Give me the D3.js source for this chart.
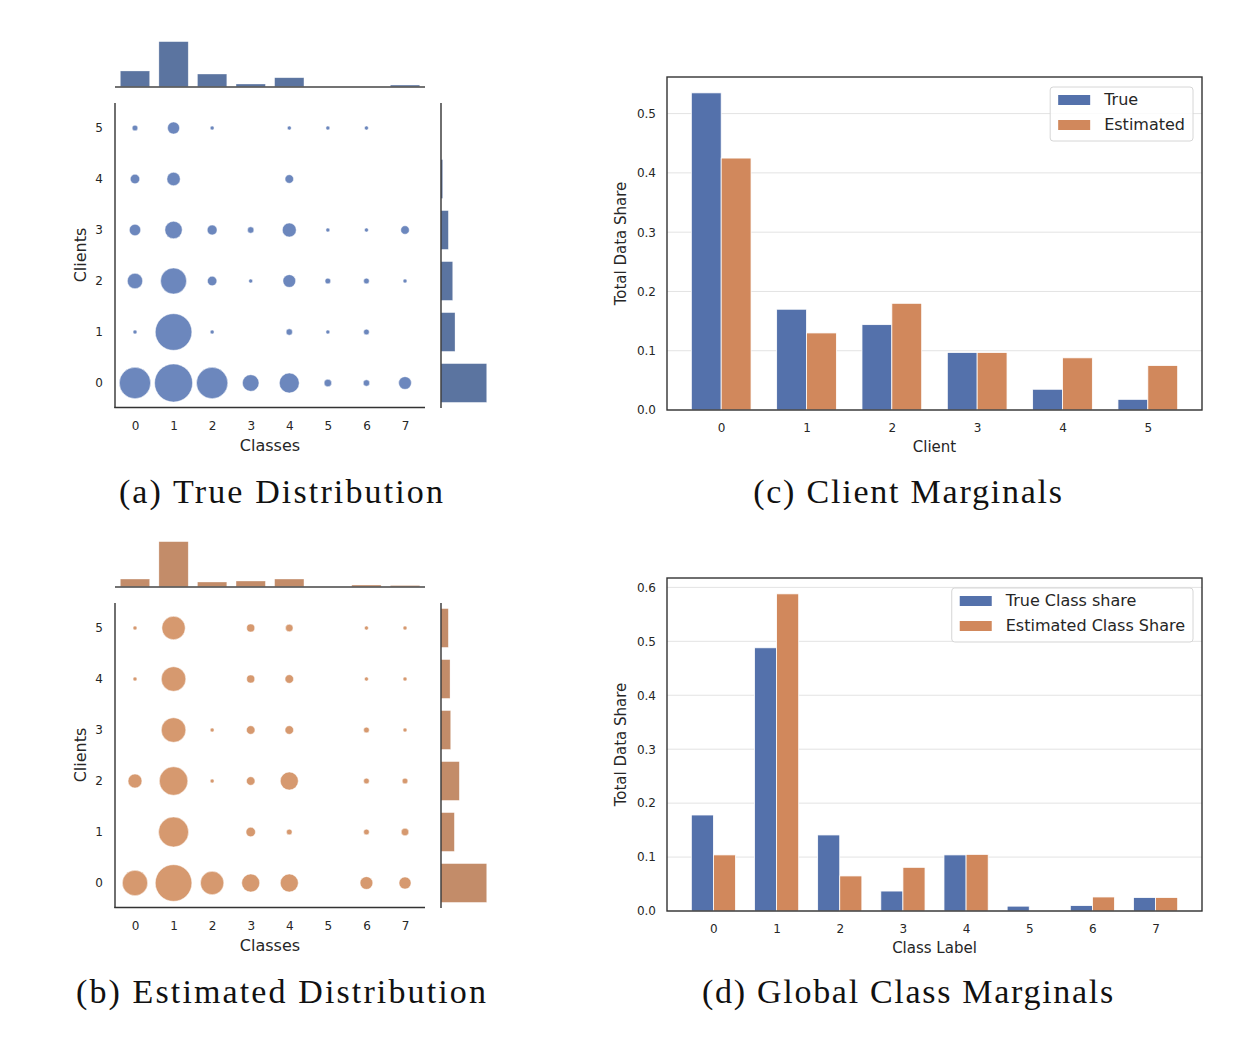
<!DOCTYPE html>
<html>
<head>
<meta charset="utf-8">
<script src="https://cdn.jsdelivr.net/npm/d3@7"></script>
<style>
  body { margin: 0; background: #fff; }
  text { font-family: "DejaVu Sans", sans-serif; fill: #262626; }
  .caption { font-family: "Liberation Serif", "DejaVu Serif", serif; fill: #111; }
</style>
</head>
<body>
<script>
// ---- data ----
const classes = [0, 1, 2, 3, 4, 5, 6, 7];
const clients = [0, 1, 2, 3, 4, 5];

// share of data per (client row, class column)
const trueMatrix = [
  [0.121, 0.178, 0.121, 0.034, 0.049, 0.007, 0.005, 0.020],
  [0.002, 0.165, 0.002, 0.000, 0.005, 0.002, 0.004, 0.000],
  [0.029, 0.083, 0.011, 0.002, 0.020, 0.004, 0.004, 0.002],
  [0.016, 0.037, 0.012, 0.005, 0.024, 0.002, 0.002, 0.009],
  [0.011, 0.022, 0.000, 0.000, 0.009, 0.000, 0.000, 0.000],
  [0.004, 0.018, 0.002, 0.000, 0.002, 0.002, 0.002, 0.000]
];
const estMatrix = [
  [0.079, 0.165, 0.067, 0.040, 0.040, 0.000, 0.020, 0.018],
  [0.000, 0.111, 0.000, 0.011, 0.004, 0.000, 0.004, 0.007],
  [0.024, 0.100, 0.002, 0.009, 0.040, 0.000, 0.004, 0.004],
  [0.000, 0.074, 0.002, 0.009, 0.009, 0.000, 0.004, 0.002],
  [0.002, 0.074, 0.000, 0.008, 0.009, 0.000, 0.002, 0.002],
  [0.002, 0.067, 0.000, 0.008, 0.007, 0.000, 0.002, 0.002]
];

// marginal histograms of the joint plots
const trueClassHist = [0.170, 0.487, 0.137, 0.029, 0.097, 0.000, 0.000, 0.018];
const trueClientHist = [0.535, 0.164, 0.137, 0.086, 0.020, 0.000];
const estClassHist = [0.100, 0.587, 0.061, 0.074, 0.100, 0.000, 0.022, 0.016];
const estClientHist = [0.425, 0.124, 0.170, 0.090, 0.084, 0.068];

// client marginals
const clientTrue = [0.535, 0.170, 0.144, 0.097, 0.035, 0.018];
const clientEst = [0.425, 0.130, 0.180, 0.097, 0.088, 0.075];

// global class marginals
const classTrue = [0.178, 0.488, 0.141, 0.037, 0.104, 0.009, 0.010, 0.025];
const classEst = [0.104, 0.588, 0.065, 0.081, 0.105, 0.000, 0.026, 0.025];

const clientTicks = [0, 0.1, 0.2, 0.3, 0.4, 0.5];
const classTicks = [0, 0.1, 0.2, 0.3, 0.4, 0.5, 0.6];

const blue = "#5471ab", orange = "#d1885c";

const svg = d3.select("body").append("svg")
  .attr("width", 1260)
  .attr("height", 1044);

function caption(text, cx, y, target) {
  const t = svg.append("text").attr("class", "caption")
    .attr("x", cx).attr("y", y)
    .attr("text-anchor", "middle")
    .attr("font-size", 34)
    .text(text);
  const w = t.node().getComputedTextLength();
  t.attr("letter-spacing", Math.max(0, (target - w) / (text.length - 1)).toFixed(2));
}

// ---- joint plot (a) / (b) ----
function jointPlot(dy, matrix, topHist, rightHist, dotColor, barColor) {
  const g = svg.append("g").attr("transform", "translate(0," + dy + ")");

  const x = d3.scaleLinear().domain([-0.5, 7.5]).range([115.7, 424.3]);
  const y = d3.scaleLinear().domain([-0.5, 5.5]).range([408.5, 102.5]);
  const r = d3.scaleSqrt().domain([0, 0.178]).range([0, 19]);

  const cells = [];
  matrix.forEach((row, ci) => row.forEach((v, k) => {
    if (v > 0) cells.push({ client: ci, cls: k, v: v });
  }));

  g.selectAll("circle.dot")
    .data(cells)
    .enter().append("circle")
    .attr("class", "dot")
    .attr("cx", d => x(d.cls))
    .attr("cy", d => y(d.client))
    .attr("r", d => r(d.v))
    .attr("fill", dotColor)
    .attr("stroke", "#fff")
    .attr("stroke-opacity", 0.6)
    .attr("stroke-width", 0.8);

  // spines
  g.append("line").attr("x1", 115).attr("x2", 115).attr("y1", 103).attr("y2", 408)
    .attr("stroke", "#333").attr("stroke-width", 1.4);
  g.append("line").attr("x1", 114.3).attr("x2", 425).attr("y1", 407.5).attr("y2", 407.5)
    .attr("stroke", "#333").attr("stroke-width", 1.4);

  const xa = g.append("g").attr("transform", "translate(0,407.5)")
    .call(d3.axisBottom(x).tickValues(classes).tickFormat(d3.format("d")).tickSize(0).tickPadding(14));
  const ya = g.append("g").attr("transform", "translate(115,0)")
    .call(d3.axisLeft(y).tickValues(clients).tickFormat(d3.format("d")).tickSize(0).tickPadding(12));
  [xa, ya].forEach(a => {
    a.select(".domain").remove();
    a.selectAll("text").attr("font-size", 12).attr("font-family", "DejaVu Sans").attr("fill", "#262626");
  });

  g.append("text").attr("x", 270).attr("y", 451)
    .attr("text-anchor", "middle").attr("font-size", 16).text("Classes");
  g.append("text").attr("transform", "translate(86,255) rotate(-90)")
    .attr("text-anchor", "middle").attr("font-size", 16).text("Clients");

  // top marginal
  const ht = d3.scaleLinear().domain([0, d3.max(topHist) * 1.05]).range([86.7, 39.4]);
  g.selectAll("rect.top")
    .data(topHist)
    .enter().append("rect")
    .attr("class", "top")
    .attr("x", (d, i) => x(i - 0.38))
    .attr("width", x(0.38) - x(-0.38))
    .attr("y", d => ht(d))
    .attr("height", d => ht(0) - ht(d))
    .attr("fill", barColor)
    .attr("stroke", "#fff").attr("stroke-opacity", 0.5).attr("stroke-width", 0.6);
  g.append("line").attr("x1", 115).attr("x2", 425).attr("y1", 87).attr("y2", 87)
    .attr("stroke", "#444").attr("stroke-width", 1.4);

  // right marginal
  const wr = d3.scaleLinear().domain([0, d3.max(rightHist) * 1.05]).range([441, 489]);
  g.selectAll("rect.right")
    .data(rightHist)
    .enter().append("rect")
    .attr("class", "right")
    .attr("y", (d, i) => y(i + 0.38))
    .attr("height", y(-0.38) - y(0.38))
    .attr("x", wr(0))
    .attr("width", d => wr(d) - wr(0))
    .attr("fill", barColor)
    .attr("stroke", "#fff").attr("stroke-opacity", 0.5).attr("stroke-width", 0.6);
  g.append("line").attr("x1", 441).attr("x2", 441).attr("y1", 103).attr("y2", 408)
    .attr("stroke", "#333").attr("stroke-width", 1.4);
}

// ---- grouped bar chart (c) / (d) ----
function barPanel(dy, trueVals, estVals, ticks, xLabel, names) {
  const g = svg.append("g").attr("transform", "translate(0," + dy + ")");
  const n = trueVals.length;
  const bw = 0.35;
  const pad = 0.05 * (n - 1 + 2 * bw);
  const L = 667, R = 1202, T = 77, B = 410;

  const x = d3.scaleLinear().domain([-bw - pad, n - 1 + bw + pad]).range([L, R]);
  const ymax = d3.max(trueVals.concat(estVals)) * 1.05;
  const y = d3.scaleLinear().domain([0, ymax]).range([B, T]);

  g.selectAll("line.grid")
    .data(ticks)
    .enter().append("line")
    .attr("class", "grid")
    .attr("x1", L).attr("x2", R)
    .attr("y1", d => y(d)).attr("y2", d => y(d))
    .attr("stroke", "#e3e3e3").attr("stroke-width", 1);

  const series = [
    { vals: trueVals, off: -bw, color: blue },
    { vals: estVals, off: 0, color: orange }
  ];
  series.forEach(s => {
    g.selectAll(null)
      .data(s.vals)
      .enter().append("rect")
      .attr("x", (d, i) => x(i + s.off))
      .attr("width", x(bw) - x(0))
      .attr("y", d => y(d))
      .attr("height", d => y(0) - y(d))
      .attr("fill", s.color)
      .attr("stroke", "#fff").attr("stroke-width", 0.8);
  });

  g.append("rect").attr("x", L).attr("y", T).attr("width", R - L).attr("height", B - T)
    .attr("fill", "none").attr("stroke", "#333").attr("stroke-width", 1.4);

  const xa = g.append("g").attr("transform", "translate(0," + B + ")")
    .call(d3.axisBottom(x).tickValues(d3.range(n)).tickFormat(d3.format("d")).tickSize(0).tickPadding(13));
  const ya = g.append("g").attr("transform", "translate(" + L + ",0)")
    .call(d3.axisLeft(y).tickValues(ticks).tickFormat(d3.format(".1f")).tickSize(0).tickPadding(11));
  [xa, ya].forEach(a => {
    a.select(".domain").remove();
    a.selectAll("text").attr("font-size", 12).attr("font-family", "DejaVu Sans").attr("fill", "#262626");
  });

  g.append("text").attr("x", (L + R) / 2).attr("y", 452)
    .attr("text-anchor", "middle").attr("font-size", 15).text(xLabel);
  g.append("text").attr("transform", "translate(626," + (T + B) / 2 + ") rotate(-90)")
    .attr("text-anchor", "middle").attr("font-size", 15).text("Total Data Share");

  // legend
  const lg = g.append("g");
  const box = lg.append("rect").attr("y", T + 10).attr("height", 54).attr("rx", 3)
    .attr("fill", "#fff").attr("fill-opacity", 0.85)
    .attr("stroke", "#d6d6d6").attr("stroke-width", 1);
  let maxW = 0;
  const texts = [];
  names.forEach((name, i) => {
    const t = lg.append("text").attr("y", T + 28 + i * 25).attr("font-size", 16).text(name);
    maxW = Math.max(maxW, t.node().getComputedTextLength());
    texts.push(t);
  });
  const bx = R - 9 - (54 + maxW + 8);
  box.attr("x", bx).attr("width", 54 + maxW + 8);
  texts.forEach((t, i) => {
    t.attr("x", bx + 54);
    lg.append("rect").attr("x", bx + 8).attr("y", T + 18 + i * 25)
      .attr("width", 32).attr("height", 10)
      .attr("fill", i === 0 ? blue : orange);
  });
}

jointPlot(0, trueMatrix, trueClassHist, trueClientHist, "#6c87bd", "#5b74a0");
jointPlot(500, estMatrix, estClassHist, estClientHist, "#d6996f", "#c38c69");
barPanel(0, clientTrue, clientEst, clientTicks, "Client", ["True", "Estimated"]);
barPanel(501, classTrue, classEst, classTicks, "Class Label", ["True Class share", "Estimated Class Share"]);

caption("(a) True Distribution", 282, 503, 324);
caption("(b) Estimated Distribution", 282, 1003, 410);
caption("(c) Client Marginals", 908.5, 503, 309);
caption("(d) Global Class Marginals", 908.5, 1003, 411);
</script>
</body>
</html>
